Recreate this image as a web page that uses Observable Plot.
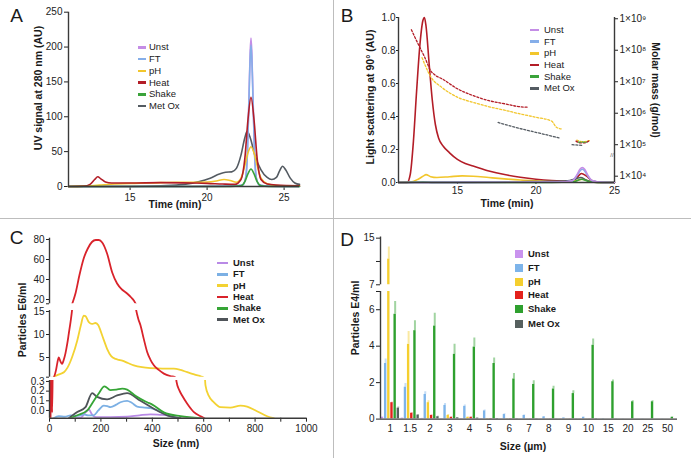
<!DOCTYPE html>
<html><head><meta charset="utf-8">
<script src="https://cdn.jsdelivr.net/npm/d3@7"></script>
<script src="https://cdn.jsdelivr.net/npm/@observablehq/plot@0.6"></script>
<style>
html,body{margin:0;padding:0;background:#fff;}
#root{position:relative;width:691px;height:458px;overflow:hidden;background:#fff;font-family:"Liberation Sans",Arial,Helvetica,sans-serif;color:#1a1a1a;}
#root > *{position:absolute;}
.t{white-space:nowrap;line-height:1;}
</style></head><body><div id="root"></div>
<script>
// ---------- shared ----------
const names = ["Unst","FT","pH","Heat","Shake","Met Ox"];
const colAB = ["#c48de6","#85aee9","#f2c62c","#b31d27","#3aa33a","#545b62"];
const colC  = ["#b98ae6","#7cb0e4","#f3d232","#d9232b","#36a536","#4f5459"];
const colD  = ["#c993ee","#7db4ea","#f5cf2f","#e3211c","#2ea02e","#56605f"];

// ---------- Panel A: UV signal (time min, AU) ----------
const A_Unst  = [[11,0],[19,0],[21.5,0.5],[22.3,2],[22.5,12],[22.62,50],[22.72,130],[22.8,195],[22.85,213],[22.9,195],[22.98,130],[23.08,50],[23.2,12],[23.4,2],[24,0.5],[26,0]];
const A_FT    = [[11,0],[19,0],[21.5,0.5],[22.3,2],[22.5,12],[22.62,48],[22.72,125],[22.8,186],[22.85,203],[22.9,186],[22.98,125],[23.08,48],[23.2,12],[23.4,2],[24,0.5],[26,0]];
const A_pH    = [[11,0],[12,0.5],[13,2],[14,3.5],[15,4.5],[16,5],[17,5.5],[18,6],[19,6],[20,6.5],[20.6,8],[21.1,10],[21.5,8.5],[21.9,6],[22.2,12],[22.45,30],[22.65,48],[22.85,57],[23.05,48],[23.25,30],[23.5,12],[23.9,4],[24.5,1.5],[26,0.5]];
const A_Heat  = [[11,0],[12,0.5],[12.4,3],[12.7,10],[12.9,14],[13.1,11],[13.4,6.5],[13.8,5],[15,5],[17,5.5],[19,5],[20,4.5],[21,3.5],[21.8,3],[22.2,10],[22.45,40],[22.65,95],[22.85,128],[23.05,95],[23.25,40],[23.5,10],[23.9,3.5],[24.5,2],[26,1]];
const A_Shake = [[11,0],[21.5,0],[22.2,1],[22.45,7],[22.65,18],[22.85,25],[23.05,18],[23.25,7],[23.5,1],[24,0],[26,0]];
const A_MetOx = [[11,0],[15,0],[17,1],[18.5,3],[19.5,7],[20.2,12],[20.8,18],[21.2,20.5],[21.6,21],[21.9,26],[22.2,45],[22.45,70],[22.6,79],[22.8,70],[23.1,45],[23.5,24],[23.9,13],[24.2,10],[24.5,13],[24.7,22],[24.9,29],[25.1,24],[25.4,12],[25.7,5],[26,3]];
const A_ticksX = [15,20,25];
const A_ticksY = [0,50,100,150,200,250];

// ---------- Panel B: light scattering (AU) and molar mass (g/mol) ----------
const B_Unst  = [[11.25,0],[21.5,0.002],[22.3,0.01],[22.6,0.045],[22.8,0.08],[22.95,0.09],[23.1,0.08],[23.3,0.045],[23.6,0.01],[24.2,0.001],[25,0]];
const B_FT    = [[11.25,0],[21.5,0.002],[22.3,0.01],[22.6,0.04],[22.8,0.07],[22.95,0.08],[23.1,0.07],[23.3,0.04],[23.6,0.01],[24.2,0.001],[25,0]];
const B_pH    = [[11.25,0],[12,0.002],[12.5,0.02],[12.85,0.04],[13,0.048],[13.3,0.035],[13.7,0.03],[14.5,0.035],[15.3,0.04],[16,0.038],[17,0.03],[18,0.022],[19,0.015],[20,0.01],[21,0.006],[22,0.005],[22.6,0.012],[22.95,0.02],[23.3,0.01],[24,0],[25,0]];
const B_Heat  = [[11.25,0],[11.8,0],[12,0.05],[12.2,0.25],[12.4,0.55],[12.6,0.82],[12.8,0.98],[12.9,1.0],[13,0.95],[13.2,0.72],[13.4,0.5],[13.6,0.35],[13.8,0.27],[14.1,0.22],[14.5,0.18],[15,0.14],[15.5,0.115],[16,0.1],[17,0.07],[18,0.048],[19,0.032],[20,0.02],[21,0.012],[22,0.008],[22.5,0.02],[22.9,0.055],[23.2,0.04],[23.6,0.01],[24.2,0],[25,0]];
const B_Shake = [[11.25,0],[12.3,0.002],[12.8,0.004],[13.5,0.001],[21,0.001],[22.4,0.005],[22.9,0.02],[23.3,0.008],[24,0],[25,0]];
const B_MetOx = [[11.25,0],[18,0.002],[19.5,0.006],[21,0.007],[22,0.01],[22.6,0.025],[22.85,0.03],[23.2,0.015],[23.6,0.003],[24.2,0],[25,0]];
// molar mass (dashed, right log axis)
const B_mmHeat   = [[12.07,4.47e8],[12.5,1.58e8],[12.96,5.4e7],[13.28,2.3e7],[13.6,1.6e7],[14.03,1.23e7],[15.02,5.9e6],[16.02,3.6e6],[17.02,2.5e6],[18,2.0e6],[19,1.6e6],[19.5,1.55e6]];
const B_mmHeat2  = [[22.55,1.3e5],[22.8,1.15e5],[23.1,1.15e5],[23.4,1.35e5]];
const B_mmpH     = [[12.75,5.8e7],[12.96,3.2e7],[13.28,1.5e7],[14.03,6.5e6],[15.02,3.2e6],[16.02,2.2e6],[17.02,1.6e6],[18,1.25e6],[19,9.5e5],[20.02,7.4e5],[21,5.6e5],[21.3,3.6e5],[21.6,3.2e5]];
const B_mmpH2    = [[22.6,1.4e5],[23,1.25e5],[23.4,1.35e5]];
const B_mmShake2 = [[22.7,1.2e5],[23.2,1.2e5]];
const B_mmMetOx  = [[17.59,5.1e5],[18.48,3.8e5],[19.54,2.8e5],[20.6,2.1e5],[21.56,1.6e5]];
const B_mmMetOx2 = [[22.3,1.0e5],[23.0,0.95e5]];
const B_ticksX = [15,20,25];
const B_ticksY = [0,0.2,0.4,0.6,0.8,1.0];
const B_ticksMM = [1e4,1e5,1e6,1e7,1e8,1e9];

// ---------- Panel C: particles E6/ml vs size (nm) ----------
const C_Unst  = [[100,-0.08],[121,-0.075],[140,-0.02],[153,0.01],[165,-0.04],[180,-0.07],[237,-0.07],[302,-0.065],[350,-0.05],[393,-0.04],[430,-0.045],[458,-0.05],[490,-0.07],[510,-0.08]];
const C_FT    = [[16,-0.08],[36,-0.06],[60,-0.065],[82,-0.05],[110,-0.055],[133,-0.04],[150,-0.05],[172,-0.05],[190,0.0],[211,0.05],[225,0.045],[237,0.035],[260,0.06],[276,0.085],[302,0.1],[320,0.08],[341,0.04],[370,0.03],[393,0.025],[420,0.0],[445,-0.03],[470,-0.06],[497,-0.08]];
const C_pH    = [[1,-0.08],[3,0.45],[6,0.05],[9,0.4],[16,0.72],[25,1.0],[40,1.4],[56,1.8],[70,2.8],[88,5.1],[108,8.7],[122,12],[133,14.1],[140,14],[153,12.7],[165,12.3],[179,12.5],[190,12],[198,10.9],[210,9],[224,6.9],[240,5.3],[257,4.7],[270,4.5],[283,4.3],[305,3.8],[328,3.3],[360,2.9],[393,2.7],[440,2.6],[484,2.6],[510,2.3],[536,1.8],[560,1.4],[588,0.9],[598,0.72],[607,0.26],[620,0.15],[639,0.086],[665,0.034],[704,0.03],[743,0.05],[769,0.04],[802,0.0],[847,-0.06],[873,-0.08]];
const C_Heat  = [[4,-0.08],[7,0.6],[10,-0.02],[13,0.5],[17,0.72],[25,2.2],[31,4],[36,5],[42,4.2],[49,3.6],[56,4.6],[62,5.9],[69,8],[75,10.2],[82,12.8],[88,15.5],[94,20],[101,26],[117,45],[133,61],[149,71],[165,77.5],[180,79.5],[192,79.5],[205,77],[224,66],[244,47],[263,36],[282,30],[302,26],[318,22],[328,19],[335,16],[345,13.5],[354,12],[367,9],[380,6.2],[393,4.5],[406,3.3],[425,2.3],[445,1.5],[470,0.95],[488,0.72],[494,0.3],[505,0.21],[516,0.155],[536,0.07],[562,-0.017],[588,-0.06],[603,-0.08]];
const C_Shake = [[82,-0.08],[108,-0.05],[147,0.0],[170,0.09],[190,0.17],[214,0.25],[237,0.21],[260,0.215],[283,0.225],[302,0.215],[330,0.16],[354,0.12],[380,0.085],[400,0.06],[445,-0.02],[510,-0.06],[588,-0.08]];
const C_MetOx = [[75,-0.08],[108,-0.017],[140,0.034],[166,0.18],[185,0.14],[224,0.115],[263,0.155],[302,0.18],[354,0.1],[406,0.018],[458,-0.05],[510,-0.08]];
const C_ticksX = [0,100,200,300,400,500,600,700,800,900,1000];
const C_ticksTop = [15.7,20,40,60,80];
const C_ticksMid = [0.72,5,10,15];
const C_ticksBot = [0,0.1,0.2,0.3];

// ---------- Panel D: particles E4/ml vs size (µm) ----------
const D_sizes = ["1","1.5","2","3","4","5","6","7","8","9","10","15","20","25","50"];
const D_Unst  = [0.1,0.05,0.03,0.02,0.02,0.02,0.01,0.01,0.01,0.01,0.01,0,0,0,0];
const D_FT    = [3.05,1.75,1.35,0.75,0.7,0.45,0.25,0.2,0.12,0.06,0.1,0.02,0.01,0.01,0.01];
const D_pH    = [11.4,4.1,0.9,0.2,0.1,0.03,0.02,0.01,0.01,0.01,0.01,0,0,0,0];
const D_Heat  = [0.9,0.32,0.2,0.1,0.1,0.03,0.02,0.01,0.01,0.01,0.01,0,0,0,0];
const D_Shake = [5.75,4.85,5.1,3.55,3.95,3.05,2.2,1.9,1.65,1.4,4.05,2.05,0.95,0.95,0.1];
const D_MetOx = [0.6,0.22,0.13,0.07,0.05,0.03,0.02,0.02,0.01,0.01,0.02,0.01,0,0,0];
const D_UnstErr  = [0.12,0.06,0.04,0.02,0.02,0.02,0.01,0.01,0.01,0.01,0.01,0,0,0,0];
const D_FTErr    = [3.3,1.95,1.5,0.85,0.78,0.5,0.3,0.22,0.14,0.08,0.12,0.02,0.01,0.01,0.01];
const D_pHErr    = [13.5,4.8,1.0,0.25,0.12,0.03,0.02,0.01,0.01,0.01,0.01,0,0,0,0];
const D_HeatErr  = [0.93,0.35,0.22,0.12,0.11,0.03,0.02,0.01,0.01,0.01,0.01,0,0,0,0];
const D_ShakeErr = [6.45,5.4,5.8,4.1,4.45,3.35,2.5,2.1,1.8,1.55,4.4,2.15,1.0,1.0,0.12];
const D_MetOxErr = [0.67,0.25,0.15,0.08,0.06,0.03,0.02,0.02,0.01,0.01,0.02,0.01,0,0,0];
const D_ticksTop = [7,11,15];
const D_ticksBot = [0,2,4,6,7];

// ---------- helpers ----------
const root = document.getElementById("root");
const FONT = '"Liberation Sans", Arial, Helvetica, sans-serif';
function mk(opts, left, top) {
  const svg = Plot.plot(Object.assign({}, opts, {style: {background: "transparent", overflow: "visible", fontFamily: FONT, fontSize: "10px", color: "#222"}}));
  svg.style.position = "absolute"; svg.style.left = left + "px"; svg.style.top = top + "px";
  root.appendChild(svg);
  return svg;
}
function rows(obj, order) {
  return order.flatMap(n => obj[n].map(([x, y]) => ({x, y, s: n})));
}
function text(str, cx, cy, o = {}) {
  const d = document.createElement("div");
  d.className = "t"; d.textContent = str;
  Object.assign(d.style, {left: cx + "px", top: cy + "px", fontSize: (o.size || 10.5) + "px",
    fontWeight: o.weight || "bold", color: o.color || "#1a1a1a",
    transform: `translate(-50%,-50%) rotate(${o.rot || 0}deg)`});
  root.appendChild(d);
}
function legend(cols, o) {
  names.forEach((n, i) => {
    const y = o.ys[i];
    const sw = document.createElement("div");
    Object.assign(sw.style, {left: o.x0 + "px", top: (y - o.sh / 2) + "px", width: o.sw + "px", height: o.sh + "px", background: cols[i]});
    root.appendChild(sw);
    const t = document.createElement("div");
    t.className = "t"; t.textContent = n;
    Object.assign(t.style, {left: o.tx + "px", top: y + "px", fontSize: o.size + "px", fontWeight: o.weight, transform: "translateY(-50%)", color: "#1a1a1a"});
    root.appendChild(t);
  });
}
function sep(l, t, w, h) {
  const d = document.createElement("div");
  Object.assign(d.style, {left: l + "px", top: t + "px", width: w + "px", height: h + "px", background: "#bdbdbd"});
  root.appendChild(d);
}
sep(0, 217.5, 691, 1); sep(332.5, 0, 1, 458);
const AXC = "#3a3a3a";

// ---------- Panel A ----------
const rowsA = rows({"Unst": A_Unst, "FT": A_FT, "pH": A_pH, "Heat": A_Heat, "Shake": A_Shake, "Met Ox": A_MetOx},
  ["Met Ox", "Unst", "FT", "pH", "Heat", "Shake"]);
mk({
  width: 333, height: 217, marginLeft: 68, marginRight: 34, marginTop: 11.7, marginBottom: 31,
  x: {domain: [11, 26], ticks: A_ticksX, tickSize: 4, tickPadding: 3, label: null},
  y: {domain: [0, 250], ticks: A_ticksY, tickSize: 4, tickPadding: 2, label: null},
  color: {domain: names, range: colAB},
  marks: [
    Plot.line(rowsA, {x: "x", y: "y", z: "s", stroke: "s", strokeWidth: 1.6, curve: "monotone-x"}),
    Plot.ruleX([11], {stroke: AXC, strokeWidth: 1.4}),
    Plot.ruleY([0], {stroke: AXC, strokeWidth: 1.4})
  ]
}, 0, 0);
text("A", 16.5, 15, {size: 19, weight: "normal"});
text("UV signal at 280 nm (AU)", 38, 88, {rot: -90});
text("Time (min)", 175, 204);
legend(colAB, {x0: 138, sw: 8, sh: 2.5, tx: 149, size: 9.5, weight: "normal", ys: [47.3, 59, 70.8, 82.5, 94.3, 106]});

// ---------- Panel B ----------
const rowsB = rows({"Unst": B_Unst, "FT": B_FT, "pH": B_pH, "Heat": B_Heat, "Shake": B_Shake, "Met Ox": B_MetOx},
  ["Heat", "pH", "Met Ox", "Shake", "FT", "Unst"]);
const mmSegs = [["Heat", B_mmHeat], ["pH", B_mmpH], ["Met Ox", B_mmMetOx], ["Met Ox", B_mmMetOx2], ["pH", B_mmpH2], ["Heat", B_mmHeat2], ["Shake", B_mmShake2]];
const rowsMM = mmSegs.flatMap(([n, arr], k) => arr.map(([x, y]) => ({x, y, s: n, seg: k})));
const bMargins = {width: 358, height: 217, marginLeft: 65, marginRight: 77, marginTop: 17, marginBottom: 35};
mk(Object.assign({}, bMargins, {
  x: {domain: [11.25, 25], ticks: B_ticksX, tickSize: 2, tickPadding: 2, label: null},
  y: {domain: [0, 1], ticks: B_ticksY, tickFormat: d3.format(".1f"), tickSize: 2, tickPadding: 1, label: null},
  color: {domain: names, range: colAB},
  marks: [
    Plot.line(rowsB, {x: "x", y: "y", z: "s", stroke: "s", strokeWidth: 1.6, curve: "monotone-x"}),
    Plot.ruleX([11.25], {stroke: AXC, strokeWidth: 1.4}),
    Plot.ruleY([0], {stroke: AXC, strokeWidth: 1.4})
  ]
}), 333, 0);
const sup = {4: "⁴", 5: "⁵", 6: "⁶", 7: "⁷", 8: "⁸", 9: "⁹"};
mk(Object.assign({}, bMargins, {
  x: {domain: [11.25, 25], axis: null},
  y: {type: "log", domain: [Math.pow(10, 3.8), Math.pow(10, 9.04)], axis: "right", ticks: B_ticksMM,
      tickFormat: d => "1×10" + sup[Math.round(Math.log10(d))], tickSize: 3, tickPadding: 2, label: null},
  color: {domain: names, range: colAB},
  marks: [
    Plot.line(rowsMM, {x: "x", y: "y", z: "seg", stroke: "s", strokeWidth: 1.3, strokeDasharray: "2,1.8", curve: "monotone-x", clip: true}),
    Plot.ruleX([25], {stroke: AXC, strokeWidth: 1.4})
  ]
}), 333, 0);
text("B", 347, 15, {size: 19, weight: "normal"});
text("Light scattering at 90° (AU)", 370, 97, {rot: -90});
text("Molar mass (g/mol)", 656, 90, {rot: 90});
text("Time (min)", 507, 203);
text("//", 612, 155, {size: 6, weight: "normal", color: "#555"});
legend(colAB, {x0: 530, sw: 9, sh: 2.5, tx: 544, size: 9.5, weight: "normal", ys: [30, 41.7, 53.3, 65, 76.7, 88.3]});

// ---------- Panel C (broken y axis: three stacked plots) ----------
const rowsC = rows({"Unst": C_Unst, "FT": C_FT, "pH": C_pH, "Heat": C_Heat, "Shake": C_Shake, "Met Ox": C_MetOx},
  ["Unst", "FT", "Met Ox", "Shake", "pH", "Heat"]);
const cBase = {width: 333, marginLeft: 49, marginRight: 27, color: {domain: names, range: colC}};
const cLine = () => Plot.line(rowsC, {x: "x", y: "y", z: "s", stroke: "s", strokeWidth: 1.8, curve: "monotone-x", clip: true});
mk(Object.assign({}, cBase, {
  height: 73.3, marginTop: 7.7, marginBottom: 0,
  x: {domain: [0, 1000], axis: null},
  y: {domain: [15.7, 81.3], ticks: C_ticksTop, tickFormat: d => (d === 15.7 ? "" : String(d)), tickSize: 3, tickPadding: 2, label: null},
  marks: [cLine(), Plot.ruleX([0], {stroke: AXC, strokeWidth: 1.4})]
}), 0, 230);
mk(Object.assign({}, cBase, {
  height: 66.7, marginTop: 0, marginBottom: 0,
  x: {domain: [0, 1000], axis: null},
  y: {domain: [0.72, 15.22], ticks: C_ticksMid, tickFormat: d => (d === 0.72 ? "" : String(d)), tickSize: 3, tickPadding: 2, label: null},
  marks: [cLine(), Plot.ruleX([0], {stroke: AXC, strokeWidth: 1.4})]
}), 0, 310);
mk(Object.assign({}, cBase, {
  height: 77.7, marginTop: 0, marginBottom: 40,
  x: {domain: [0, 1000], ticks: C_ticksX, tickFormat: d => (d % 200 === 0 ? String(d) : ""), tickSize: 4, tickPadding: 3, label: null},
  y: {domain: [-0.08, 0.31], ticks: C_ticksBot, tickFormat: d3.format(".1f"), tickSize: 3, tickPadding: 2, label: null},
  marks: [cLine(), Plot.ruleX([0], {stroke: AXC, strokeWidth: 1.4}), Plot.ruleY([-0.08], {stroke: AXC, strokeWidth: 1.4})]
}), 0, 380);
text("C", 16.5, 236.5, {size: 19, weight: "normal"});
text("Particles E6/ml", 21.7, 320, {rot: -90});
text("Size (nm)", 176, 443);
legend(colC, {x0: 217, sw: 11, sh: 2.5, tx: 233, size: 9.5, weight: "bold", ys: [263, 274.3, 285.6, 297, 308.3, 319.6]});

// ---------- Panel D (grouped bars, broken y axis) ----------
const D_vals = [D_Unst, D_FT, D_pH, D_Heat, D_Shake, D_MetOx];
const D_errs = [D_UnstErr, D_FTErr, D_pHErr, D_HeatErr, D_ShakeErr, D_MetOxErr];
const rowsD = D_sizes.flatMap((sz, i) => names.map((n, j) => ({size: sz, s: n, v: D_vals[j][i], e: D_errs[j][i]})));
const dDims = {width: 358, marginLeft: 47, marginRight: 14};
const dBase = Object.assign({}, dDims, {
  facet: {data: rowsD, x: "size"},
  x: {domain: names, axis: null, padding: 0.25, round: false},
  color: {domain: names, range: colD}
});
const dMarks = () => [
  Plot.barY(rowsD, {x: "s", y: "v", fill: "s", clip: true}),
  Plot.ruleX(rowsD, {x: "s", y1: "v", y2: "e", stroke: "s", strokeOpacity: 0.45, strokeWidth: 2, clip: true})
];
// top segment (bars + error bars)
mk(Object.assign({}, dBase, {
  height: 54.3, marginTop: 6.5, marginBottom: 0,
  fx: {domain: D_sizes, axis: null, padding: 0, round: false},
  y: {domain: [7, 15.2], axis: null},
  marks: dMarks()
}), 333, 230);
// top segment axis
mk(Object.assign({}, dDims, {
  height: 54.3, marginTop: 6.5, marginBottom: 0,
  x: {domain: [0, 1], axis: null},
  y: {domain: [7, 15.2], ticks: D_ticksTop, tickFormat: d => (d === 11 ? "" : String(d)), tickSize: 4, tickPadding: 2, label: null},
  marks: [Plot.ruleX([0], {stroke: AXC, strokeWidth: 1.4})]
}), 333, 230);
// bottom segment (bars + error bars + size labels)
mk(Object.assign({}, dBase, {
  height: 166.6, marginTop: 0, marginBottom: 39,
  fx: {domain: D_sizes, axis: "bottom", padding: 0, round: false, tickSize: 0, tickPadding: 6, label: null},
  y: {domain: [0, 7], axis: null},
  marks: dMarks()
}), 333, 290.7);
// bottom segment axes
mk(Object.assign({}, dDims, {
  height: 166.6, marginTop: 0, marginBottom: 39,
  x: {domain: [0, 1], axis: null},
  y: {domain: [0, 7], ticks: D_ticksBot, tickFormat: d => (d === 7 ? "" : String(d)), tickSize: 4, tickPadding: 2, label: null},
  marks: [Plot.ruleX([0], {stroke: AXC, strokeWidth: 1.4}), Plot.ruleY([0], {stroke: AXC, strokeWidth: 1.4})]
}), 333, 290.7);
text("D", 347, 238.5, {size: 19, weight: "normal"});
text("Particles E4/ml", 355, 318, {rot: -90});
text("Size (µm)", 523, 445.5);
legend(colD, {x0: 515, sw: 8, sh: 8, tx: 528, size: 9.5, weight: "bold", ys: [254, 267.7, 281.5, 295, 308.5, 323.5]});
</script></body></html>
